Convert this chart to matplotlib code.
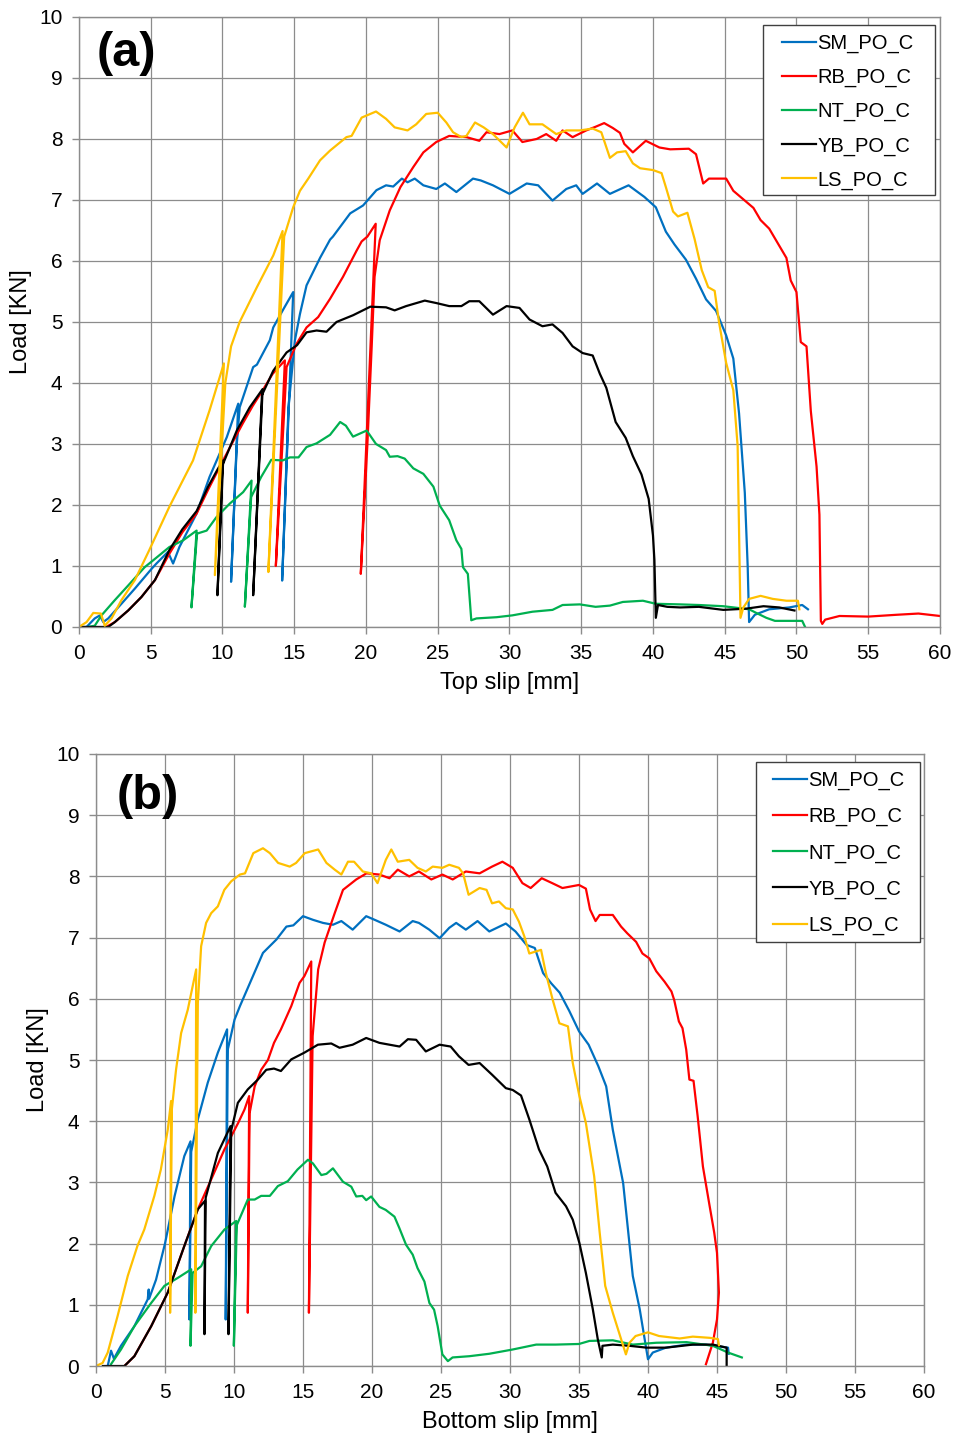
import matplotlib
matplotlib.use("Agg")
import matplotlib.pyplot as plt
from matplotlib.patches import Rectangle

plt.rcParams['font.family'] = ['Liberation Sans', 'DejaVu Sans']

names = ["SM_PO_C", "RB_PO_C", "NT_PO_C", "YB_PO_C", "LS_PO_C"]
colors = ["#0070C0", "#FF0000", "#00B050", "#000000", "#FFC000"]

# ---- (a) top slip ----
a_sm_x = [0.3, 0.53, 1.1, 1.46, 1.69, 2.04, 2.96, 3.9, 5.05, 5.4, 6.2, 6.56, 7.0, 8.2, 9.1, 10.3, 11.1,
          10.6, 11.0, 11.2, 12.14, 12.4, 13.3, 13.54, 14.2, 14.93,
          14.16, 14.6, 15.05, 15.4, 15.86, 16.8, 17.5, 17.7, 18.9, 19.8, 20.73, 21.4, 21.9, 22.5, 22.9, 23.4,
          24.0, 24.9, 25.5, 26.3, 27.46, 28.0, 28.85, 30.0, 31.2, 32.0, 33.0, 33.96, 34.65, 35.1, 36.1, 37.0,
          38.3, 39.4, 40.2, 40.9, 41.5, 42.3, 43.0, 43.7, 44.4, 45.1, 45.6, 46.0, 46.4, 46.6, 46.7,
          47.1, 48.1, 49.5, 50.4, 50.8]
a_sm_y = [0.0, 0.0, 0.14, 0.19, 0.08, 0.14, 0.38, 0.63, 0.95, 1.04, 1.23, 1.04, 1.31, 1.86, 2.46, 3.11, 3.66,
          0.74, 3.0, 3.6, 4.26, 4.3, 4.7, 4.91, 5.19, 5.49,
          0.76, 3.6, 4.7, 5.13, 5.6, 6.05, 6.35, 6.40, 6.78, 6.91, 7.16, 7.24, 7.22, 7.35, 7.29, 7.35,
          7.24, 7.18, 7.27, 7.13, 7.35, 7.32, 7.24, 7.10, 7.27, 7.24, 6.99, 7.18, 7.24, 7.10, 7.27, 7.10,
          7.24, 7.05, 6.88, 6.48, 6.27, 6.02, 5.71, 5.37, 5.18, 4.78, 4.4, 3.5, 2.2, 1.0, 0.08,
          0.2, 0.29, 0.32, 0.36, 0.29]

a_rb_x = [1.9, 2.5, 3.43, 4.35, 5.3, 6.3, 7.2, 8.2, 9.0, 9.8, 10.6, 11.4, 12.1, 12.8, 13.5, 14.35,
          13.72, 14.47, 15.16, 15.86, 16.67, 17.5, 18.4, 19.35, 19.7, 20.1, 20.68,
          19.64, 20.1, 20.4, 20.6, 20.96, 21.66, 22.4, 23.3, 24.0, 24.9, 25.8, 27.0, 27.9, 28.4, 29.3, 30.2,
          30.9, 31.9, 32.56, 33.26, 33.7, 34.4, 35.35, 36.0, 36.6, 37.2, 37.7, 38.0, 38.6, 39.5, 40.45,
          41.2, 42.5, 43.0, 43.5, 43.9, 45.1, 45.6, 46.3, 47.0, 47.5, 48.1, 48.8, 49.3, 49.6, 50.0, 50.3,
          50.7, 51.0, 51.4, 51.6, 51.7, 51.8, 52.0, 53.0, 55.0, 57.0, 58.5, 60.0]
a_rb_y = [0.0, 0.08, 0.27, 0.49, 0.77, 1.2, 1.55, 1.86, 2.25, 2.62, 2.98, 3.33, 3.62, 3.88, 4.15, 4.37,
          1.0, 4.26, 4.64, 4.91, 5.08, 5.38, 5.74, 6.17, 6.32, 6.4, 6.61,
          0.87, 3.0, 4.6, 5.74, 6.34, 6.83, 7.21, 7.54, 7.78, 7.95, 8.05, 8.03, 7.97, 8.11, 8.08, 8.14,
          7.95, 8.0, 8.08, 7.97, 8.14, 8.03, 8.14, 8.2, 8.26, 8.18, 8.1, 7.92, 7.78, 7.97, 7.86,
          7.83, 7.84, 7.75, 7.27, 7.35, 7.35, 7.15, 7.01, 6.87, 6.67, 6.53, 6.25, 6.05, 5.68, 5.49, 4.67,
          4.6, 3.54, 2.63, 1.84, 0.1, 0.05, 0.12, 0.18, 0.17, 0.2, 0.22, 0.18]

a_nt_x = [0.6, 1.1, 1.57, 2.5, 3.43, 4.58, 5.16, 6.3, 7.26, 8.2,
          7.84, 8.23, 8.9, 9.58, 10.5, 11.44, 12.03,
          11.56, 12.0, 12.7, 13.4, 14.2, 14.7, 15.3, 15.86, 16.56, 17.5, 18.2, 18.6, 19.1, 20.05, 20.7,
          21.4, 21.66, 22.2, 22.7, 23.3, 24.0, 24.7, 25.14, 25.8, 26.3, 26.65, 26.76, 27.1, 27.34, 27.7,
          29.1, 30.2, 31.6, 33.0, 33.7, 34.9, 36.0, 37.0, 37.9, 39.3, 40.2, 41.9, 43.2, 44.9, 46.7, 47.2,
          47.9, 48.5, 50.4, 50.6]
a_nt_y = [0.0, 0.02, 0.19, 0.44, 0.68, 0.98, 1.09, 1.31, 1.42, 1.58,
          0.32, 1.53, 1.58, 1.80, 2.02, 2.21, 2.4,
          0.33, 2.13, 2.46, 2.74, 2.73, 2.78, 2.78, 2.95, 3.01, 3.15, 3.36, 3.3, 3.12, 3.22, 3.0,
          2.9, 2.79, 2.8, 2.76, 2.6, 2.51, 2.3, 1.99, 1.75, 1.42, 1.28, 0.98, 0.87, 0.11, 0.14,
          0.16, 0.19, 0.25, 0.28, 0.36, 0.37, 0.33, 0.35, 0.41, 0.43, 0.38, 0.37, 0.36, 0.34, 0.29, 0.23,
          0.15, 0.1, 0.1, 0.0]

a_yb_x = [0.0, 2.04, 2.5, 3.43, 4.35, 5.3, 6.3, 7.2, 8.2, 9.0, 9.7, 10.05,
          9.65, 10.0, 11.0, 11.9, 12.8,
          12.14, 12.75, 13.54, 14.47, 15.2, 15.86, 16.56, 17.25, 17.95, 19.1, 20.3, 21.4, 22.0, 22.8,
          24.1, 24.9, 25.8, 26.65, 27.2, 27.9, 28.85, 29.8, 30.7, 31.4, 32.3, 33.0, 33.7, 34.4, 35.1,
          35.8, 36.3, 36.75, 37.4, 38.1, 38.6, 39.2, 39.7, 40.0, 40.1, 40.2, 40.35, 41.0, 41.9, 43.2,
          44.9, 46.5, 47.7, 48.8, 49.86]
a_yb_y = [0.0, 0.0, 0.08, 0.27, 0.49, 0.77, 1.26, 1.6, 1.9, 2.3, 2.6, 2.73,
          0.52, 2.65, 3.22, 3.6, 3.9,
          0.52, 3.8, 4.2, 4.5, 4.62, 4.83, 4.86, 4.84, 5.0, 5.11, 5.25, 5.24, 5.19, 5.26,
          5.35, 5.31, 5.26, 5.26, 5.34, 5.34, 5.12, 5.26, 5.23, 5.04, 4.93, 4.96, 4.82, 4.60, 4.49,
          4.45, 4.15, 3.92, 3.36, 3.1, 2.8, 2.5, 2.1, 1.5, 1.1, 0.15, 0.36, 0.33, 0.32, 0.33,
          0.28, 0.30, 0.34, 0.32, 0.27]

a_ls_x = [0.0, 0.53, 1.0, 1.53, 1.8, 2.27, 2.96, 3.9, 4.9, 6.3, 7.95, 9.1, 10.1,
          9.47, 10.2, 10.6, 11.2, 12.4, 13.54, 14.19,
          13.2, 14.3, 14.93, 15.4, 15.98, 16.8, 17.5, 18.64, 19.0, 19.7, 20.7, 21.4, 22.0, 22.9, 23.5,
          24.2, 25.0, 25.6, 26.07, 26.65, 27.0, 27.6, 28.2, 28.85, 29.8, 30.36, 30.94, 31.4, 32.3, 33.26,
          33.96, 34.9, 35.8, 36.4, 37.0, 37.5, 38.1, 38.6, 39.1, 40.0, 40.6, 40.9, 41.4, 41.74, 42.4,
          42.9, 43.4, 43.85, 44.3, 44.6, 45.1, 45.6, 45.9, 46.1,
          46.3, 46.7, 47.5, 48.35, 49.3, 50.1, 50.2]
a_ls_y = [0.0, 0.08, 0.23, 0.22, 0.02, 0.14, 0.44, 0.77, 1.26, 1.97, 2.73, 3.55, 4.32,
          0.85, 4.0, 4.6, 5.0, 5.57, 6.09, 6.49,
          0.9, 6.4, 6.88, 7.15, 7.35, 7.65, 7.81, 8.03, 8.05, 8.35, 8.45, 8.33, 8.19, 8.14, 8.24,
          8.41, 8.43, 8.27, 8.11, 8.03, 8.05, 8.27, 8.19, 8.08, 7.86, 8.19, 8.43, 8.24, 8.24, 8.08,
          8.14, 8.14, 8.17, 8.11, 7.69, 7.78, 7.8, 7.6, 7.52, 7.49, 7.44, 7.21, 6.81, 6.73, 6.79,
          6.36, 5.85, 5.57, 5.51, 5.0, 4.33, 3.88, 2.97, 0.15,
          0.32, 0.46, 0.51, 0.46, 0.43, 0.43, 0.29]

# ---- (b) bottom slip ----
b_sm_x = [0.85, 1.09, 1.3, 1.81, 2.78, 3.75, 3.82, 3.85, 4.35, 5.0, 5.7, 6.4, 6.85,
          6.77, 6.9, 7.38, 8.1, 8.83, 9.5,
          9.4, 9.55, 10.04, 10.43, 11.16, 12.1, 13.08, 13.8, 14.3, 15.0, 15.73, 16.45, 17.17, 17.78,
          18.6, 19.58, 20.2, 21.0, 22.0, 22.95, 23.4, 24.15, 24.9, 25.6, 26.1, 26.8, 27.65, 28.5, 29.7,
          30.4, 31.2, 31.8, 32.4, 33.0, 33.6, 34.3, 35.0, 35.7, 36.4, 36.97, 37.45, 38.2, 38.9, 39.4,
          40.0, 40.35, 41.3, 42.8, 44.2, 45.8, 45.85]
b_sm_y = [0.0, 0.25, 0.12, 0.33, 0.65, 1.09, 1.25, 1.1, 1.41, 2.0, 2.78, 3.43, 3.67,
          0.76, 3.5, 4.03, 4.63, 5.12, 5.5,
          0.76, 5.17, 5.66, 5.88, 6.26, 6.75, 6.97, 7.18, 7.2, 7.35, 7.29, 7.24, 7.21, 7.27,
          7.13, 7.35, 7.29, 7.21, 7.10, 7.27, 7.24, 7.13, 6.99, 7.16, 7.24, 7.13, 7.27, 7.10, 7.23,
          7.10, 6.88, 6.83, 6.42, 6.25, 6.1, 5.8, 5.47, 5.25, 4.9, 4.57, 3.86, 2.99, 1.47, 0.93,
          0.11, 0.22, 0.3, 0.35, 0.35, 0.3, 0.2]

b_rb_x = [2.06, 2.78, 4.0, 5.2, 6.4, 7.38, 8.35, 9.31, 10.3, 10.76, 11.1,
          11.0, 11.13, 11.5, 11.97, 12.46, 12.9, 13.4, 14.15, 14.75, 15.1, 15.6,
          15.43, 15.7, 16.1, 16.57, 17.3, 17.9, 18.86, 19.6, 20.54, 21.27, 21.87, 22.7, 23.4, 24.3, 25.1,
          25.85, 26.8, 27.8, 28.7, 29.45, 30.2, 30.9, 31.5, 32.3, 33.06, 33.8, 35.0, 35.5, 35.8, 36.2,
          36.5, 37.45, 38.05, 38.5, 39.14, 39.6, 40.1, 40.6, 41.2, 41.7, 41.9, 42.24, 42.5, 42.77, 43.0,
          43.3, 43.6, 43.98, 44.47, 44.8, 45.0, 45.14, 45.0, 44.7, 44.2]
b_rb_y = [0.0, 0.16, 0.65, 1.2, 1.96, 2.56, 3.05, 3.54, 3.97, 4.19, 4.41,
          0.87, 4.13, 4.57, 4.84, 5.0, 5.28, 5.5, 5.88, 6.26, 6.37, 6.61,
          0.87, 5.39, 6.48, 6.92, 7.4, 7.78, 7.95, 8.05, 8.03, 7.97, 8.11, 8.0, 8.08, 7.95, 8.03,
          7.95, 8.08, 8.05, 8.16, 8.24, 8.14, 7.89, 7.81, 7.97, 7.89, 7.81, 7.86, 7.8, 7.46, 7.27,
          7.37, 7.37, 7.18, 7.07, 6.93, 6.74, 6.66, 6.45, 6.28, 6.12, 5.98, 5.63, 5.52, 5.17, 4.68,
          4.66, 4.08, 3.26, 2.61, 2.18, 1.85, 1.2, 0.76, 0.38, 0.03]

b_nt_x = [1.09, 1.81, 2.78, 4.0, 4.96, 5.93, 6.9,
          6.85, 7.0, 7.62, 8.35, 9.31, 10.16,
          9.99, 10.2, 11.0, 11.5, 11.97, 12.6, 13.18, 13.9, 14.6, 15.36, 15.72, 16.33, 16.7, 17.17,
          17.9, 18.5, 18.86, 19.3, 19.58, 19.94, 20.54, 21.0, 21.63, 21.99, 22.47, 22.95, 23.3, 23.8,
          24.16, 24.5, 24.76, 25.1, 25.5, 25.84, 27.05, 28.5, 30.2, 31.9, 33.3, 35.0, 35.76, 37.45, 38.9,
          40.6, 42.8, 44.7, 45.8, 46.8]
b_nt_y = [0.03, 0.27, 0.65, 1.03, 1.31, 1.44, 1.58,
          0.33, 1.52, 1.63, 1.96, 2.23, 2.37,
          0.33, 2.3, 2.72, 2.72, 2.78, 2.78, 2.94, 3.02, 3.21, 3.37, 3.31, 3.12, 3.14, 3.23,
          3.01, 2.93, 2.77, 2.78, 2.71, 2.77, 2.6, 2.55, 2.44, 2.25, 1.98, 1.82, 1.6, 1.38,
          1.03, 0.92, 0.65, 0.19, 0.08, 0.14, 0.16, 0.2, 0.27, 0.35, 0.35, 0.36, 0.41, 0.42, 0.35,
          0.38, 0.39, 0.33, 0.22, 0.14]

b_yb_x = [0.5, 2.06, 2.78, 4.0, 5.2, 6.4, 7.38, 7.9,
          7.86, 7.95, 8.83, 9.75,
          9.6, 9.8, 10.28, 11.0, 11.73, 12.34, 12.9, 13.4, 14.15, 15.1, 16.08, 17.05, 17.65, 18.6,
          19.58, 20.54, 21.27, 22.0, 22.6, 23.2, 23.9, 24.9, 25.7, 26.3, 27.0, 27.8, 28.7, 29.7, 30.2,
          30.8, 31.4, 32.1, 32.7, 33.3, 34.06, 34.55, 35.03, 35.5, 36.0, 36.36, 36.65, 36.7, 37.45,
          38.66, 39.9, 41.3, 43.25, 44.7, 45.7, 45.7]
b_yb_y = [0.0, 0.0, 0.16, 0.65, 1.2, 1.96, 2.56, 2.7,
          0.52, 2.75, 3.48, 3.92,
          0.52, 3.85, 4.3, 4.52, 4.68, 4.84, 4.86, 4.82, 5.01, 5.12, 5.25, 5.27, 5.2, 5.25,
          5.36, 5.28, 5.25, 5.22, 5.34, 5.33, 5.14, 5.25, 5.22, 5.06, 4.92, 4.95, 4.76, 4.54, 4.51,
          4.42, 4.03, 3.54, 3.26, 2.83, 2.61, 2.39, 2.01, 1.52, 0.93, 0.44, 0.14, 0.33, 0.35,
          0.33, 0.3, 0.3, 0.35, 0.35, 0.3, 0.0]

b_ls_x = [0.0, 0.48, 0.85, 1.57, 2.3, 3.0, 3.5, 4.23, 4.7, 5.2, 5.44,
          5.37, 5.5, 5.8, 6.17, 6.65, 7.0, 7.26,
          7.2, 7.38, 7.62, 7.98, 8.35, 8.83, 9.3, 9.8, 10.43, 10.8, 11.4, 12.1, 12.6, 13.2, 14.04, 14.5,
          15.13, 16.1, 16.7, 17.3, 17.78, 18.26, 18.7, 19.34, 19.94, 20.4, 21.0, 21.4, 21.87, 22.7, 23.3,
          23.9, 24.4, 25.1, 25.6, 26.3, 26.6, 27.0, 27.8, 28.3, 28.7, 29.2, 29.7, 30.2, 30.65, 31.04,
          31.4, 32.25, 32.6, 33.1, 33.58, 34.2, 34.55, 35.03, 35.5, 36.1, 36.5, 36.9, 37.45, 38.4,
          38.66, 39.1, 40.0, 40.8, 42.3, 43.25, 44.5, 45.07, 45.14]
b_ls_y = [0.0, 0.05, 0.22, 0.82, 1.47, 1.96, 2.23, 2.78, 3.21, 3.86, 4.33,
          0.87, 4.2, 4.84, 5.44, 5.82, 6.2, 6.48,
          0.87, 5.93, 6.86, 7.24, 7.4, 7.51, 7.78, 7.92, 8.03, 8.05, 8.38, 8.46, 8.38, 8.22, 8.16, 8.22,
          8.38, 8.44, 8.22, 8.11, 8.03, 8.24, 8.24, 8.08, 8.05, 7.89, 8.27, 8.44, 8.24, 8.27, 8.14,
          8.08, 8.16, 8.14, 8.19, 8.14, 8.05, 7.7, 7.81, 7.78, 7.56, 7.59, 7.48, 7.46, 7.26, 7.02,
          6.74, 6.8, 6.42, 5.98, 5.6, 5.55, 4.95, 4.41, 3.97, 3.1, 2.18, 1.31, 0.87, 0.19,
          0.38, 0.49, 0.55, 0.49, 0.45, 0.48, 0.46, 0.44, 0.34]

a_series = [(a_sm_x, a_sm_y), (a_rb_x, a_rb_y), (a_nt_x, a_nt_y), (a_yb_x, a_yb_y), (a_ls_x, a_ls_y)]
b_series = [(b_sm_x, b_sm_y), (b_rb_x, b_rb_y), (b_nt_x, b_nt_y), (b_yb_x, b_yb_y), (b_ls_x, b_ls_y)]

grid_col = "#8c8c8c"


def draw_panel(ax, series, xlabel, tag, tag_pos, box, anchor, spacing):
    for (xs, ys), c, n in zip(series, colors, names):
        ax.plot(xs, ys, color=c, lw=1.6, label=n)
    ax.set_xlim(0, 60)
    ax.set_ylim(0, 10)
    ax.set_xticks(range(0, 61, 5))
    ax.set_yticks(range(0, 11))
    ax.grid(True, color=grid_col, lw=0.9)
    ax.set_axisbelow(True)
    for s in ax.spines.values():
        s.set_color(grid_col)
        s.set_linewidth(1.0)
    ax.tick_params(axis='both', colors=grid_col, labelcolor='black', labelsize=15,
                   length=5, width=1.0, direction='out', pad=7)
    ax.set_xlabel(xlabel, fontsize=17, labelpad=7)
    ax.set_ylabel("Load [KN]", fontsize=17, labelpad=5)
    ax.text(tag_pos[0], tag_pos[1], tag, transform=ax.transAxes, fontsize=35,
            fontweight='bold', ha='left', va='center')
    # legend box drawn separately so the padding matches
    x0, y0, x1, y1 = box
    ax.add_patch(Rectangle((x0, y0), x1 - x0, y1 - y0, transform=ax.transAxes,
                           facecolor='white', edgecolor='#404040', lw=1.0,
                           zorder=4.5, clip_on=False))
    ax.legend(loc='upper left', bbox_to_anchor=anchor, fontsize=14.5, frameon=False,
              handlelength=1.7, handletextpad=0.05, labelspacing=spacing,
              borderpad=0, borderaxespad=0)


fig = plt.figure(figsize=(9.57, 14.37), dpi=100)
ax1 = fig.add_axes([0.0825, 0.5637, 0.8997, 0.4245])
ax2 = fig.add_axes([0.1003, 0.0494, 0.8652, 0.4259])

draw_panel(ax1, a_series, "Top slip [mm]", "(a)", (0.02, 0.94),
           (0.7944, 0.7082, 0.9942, 0.9869), (0.8165, 0.9722), 0.74)
draw_panel(ax2, b_series, "Bottom slip [mm]", "(b)", (0.025, 0.93),
           (0.7971, 0.6928, 0.9952, 0.9869), (0.8176, 0.9723), 0.84)

fig.savefig("out.png", dpi=100)
